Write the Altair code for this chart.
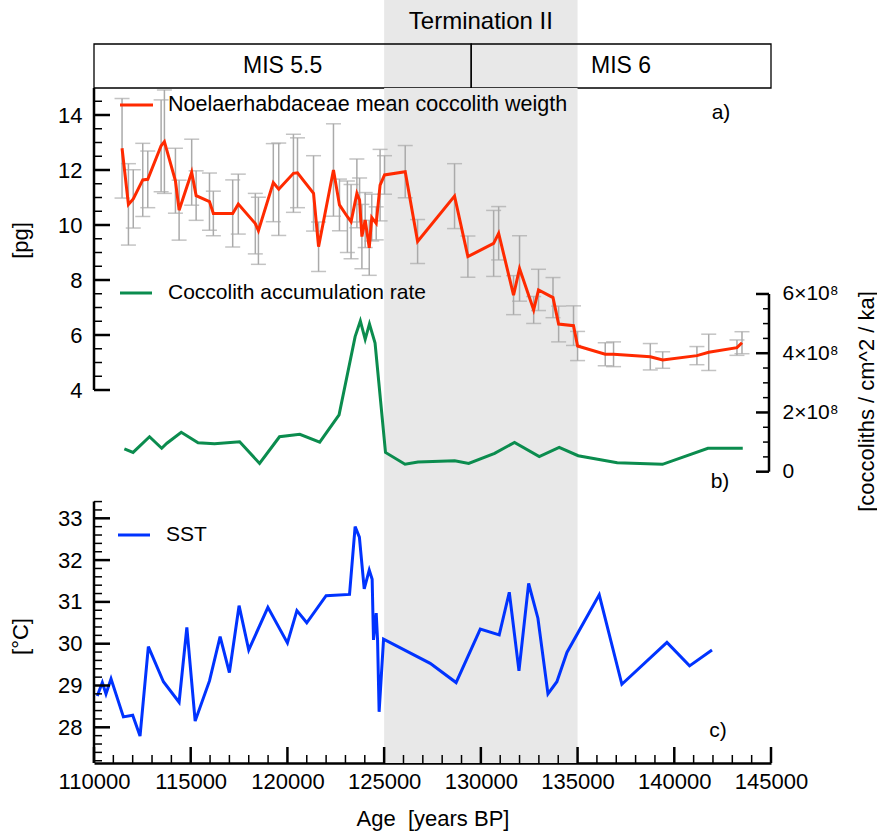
import altair as alt
import pandas as pd

FONT = "Liberation Sans"

# ---------------- data ----------------
weight_age = [111450, 111780, 112030, 112520, 112780, 113470, 113640, 114210, 114400, 115050,
              115280, 115970, 116170, 117170, 117460, 118340, 118500, 119270, 119550, 120310,
              120520, 121350, 121610, 122380, 122690, 123100, 123290, 123590, 123730, 123850,
              124020, 124230, 124360, 124590, 124790, 125020, 126090, 126730, 128640, 129330,
              130660, 130920, 131690, 132000, 132730, 132980, 133730, 134020, 134790, 135000,
              136430, 136860, 138760, 139400, 141170, 141780, 143240, 143500]
weight_pg = [12.79, 10.75, 10.95, 11.64, 11.66, 12.88, 13.03, 11.61, 10.54, 11.92,
             11.07, 10.85, 10.42, 10.42, 10.76, 10.05, 9.79, 11.54, 11.30, 11.88,
             11.90, 11.15, 9.21, 12.00, 10.73, 10.30, 10.12, 11.15, 10.91, 9.58,
             10.18, 9.17, 10.27, 10.06, 11.45, 11.82, 11.94, 9.40, 11.05, 8.85,
             9.33, 9.70, 7.45, 8.42, 6.91, 7.64, 7.36, 6.40, 6.34, 5.60,
             5.30, 5.30, 5.21, 5.09, 5.25, 5.37, 5.54, 5.72]
weight_err = [1.81, 1.48, 1.06, 1.33, 1.03, 1.67, 1.88, 1.18, 1.09, 1.20,
              0.90, 1.04, 0.81, 1.22, 1.09, 1.10, 1.22, 1.42, 1.68, 1.42,
              1.27, 1.37, 0.90, 1.68, 0.94, 1.30, 1.35, 1.25, 0.80, 1.17,
              1.00, 1.00, 0.85, 0.60, 1.30, 0.70, 0.95, 0.80, 1.18, 0.75,
              1.20, 0.97, 0.71, 1.19, 0.49, 0.75, 0.73, 0.65, 0.72, 0.53,
              0.42, 0.45, 0.48, 0.30, 0.33, 0.66, 0.28, 0.40]

acc_age = [111570, 112020, 112870, 113500, 113770, 114510, 115380, 116230, 117530, 118560,
           119590, 120640, 121670, 122670, 123500, 123770, 124020, 124240, 124530, 125070,
           126080, 126750, 128650, 129370, 130710, 131740, 133020, 134050, 135030, 137050,
           139390, 141740, 143540]
acc_rate = [0.77e8, 0.65e8, 1.18e8, 0.79e8, 0.96e8, 1.33e8, 0.98e8, 0.94e8, 1.01e8, 0.28e8,
            1.18e8, 1.26e8, 1.00e8, 1.92e8, 4.56e8, 5.09e8, 4.47e8, 4.99e8, 4.34e8, 0.65e8,
            0.25e8, 0.33e8, 0.37e8, 0.28e8, 0.62e8, 0.99e8, 0.51e8, 0.82e8, 0.54e8, 0.30e8,
            0.25e8, 0.79e8, 0.79e8]

sst_age = [110170, 110430, 110620, 110880, 111520, 112000, 112380, 112810, 113590, 114400,
           114800, 115230, 115970, 116520, 117000, 117500, 118000, 118990, 120000, 120490,
           121000, 122000, 123210, 123500, 123720, 123970, 124230, 124380, 124450, 124590,
           124660, 124740, 124970, 127380, 128720, 129970, 130950, 131470, 131970, 132470,
           132950, 133470, 133930, 134450, 136120, 137290, 139620, 140790, 141950]
sst_val = [28.75, 29.07, 28.80, 29.16, 28.25, 28.29, 27.79, 29.93, 29.09, 28.60,
           30.39, 28.15, 29.11, 30.17, 29.31, 30.91, 29.85, 30.87, 30.02, 30.79,
           30.50, 31.15, 31.18, 32.80, 32.55, 31.31, 31.76, 31.54, 30.09, 30.73,
           30.09, 28.37, 30.11, 29.53, 29.07, 30.35, 30.21, 31.23, 29.35, 31.44,
           30.61, 28.80, 29.09, 29.79, 31.17, 29.03, 30.03, 29.47, 29.85]

term_start, term_end = 125000, 135000
mis_labels = ["MIS 5.5", "MIS 6"]
mis_start = [110000, 129500]
mis_end = [129500, 145000]

x_major = list(range(110000, 145001, 5000))
x_minor = [v for v in range(110000, 145001, 1000) if v % 5000]
pg_major = [4, 6, 8, 10, 12, 14]
pg_minor = [4.5, 5, 5.5, 6.5, 7, 7.5, 8.5, 9, 9.5, 10.5, 11, 11.5, 12.5, 13, 13.5, 14.5]
ar_major = [0, 2e8, 4e8, 6e8]
ar_minor = [0.5e8, 1e8, 1.5e8, 2.5e8, 3e8, 3.5e8, 4.5e8, 5e8, 5.5e8]
sst_major = [28, 29, 30, 31, 32, 33]
sst_minor = [round(27 + 0.2 * i, 1) for i in range(1, 33) if i % 5]

# ---------------- layout / style ----------------
W, H_HEAD, H_TOP, H_BOT = 677, 88, 402, 273
GRAY, ERR, RED, GREEN, BLUE = "#e8e8e8", "#aaaaaa", "#ff2a00", "#0b8c4e", "#0033ff"

xs = alt.Scale(domain=[110000, 145000], nice=False, zero=False)
pgs = alt.Scale(domain=[0.364, 14.982], nice=False, zero=False)
ars = alt.Scale(domain=[-0.618e8, 12.954e8], nice=False, zero=False)
ssts = alt.Scale(domain=[27.146, 33.677], nice=False, zero=False)
hs = alt.Scale(domain=[0, 2], nice=False, zero=False)

one = pd.DataFrame({"k": [0]})
term_df = pd.DataFrame({"start": [term_start], "end": [term_end]})


def X(field, axis=None):
    return alt.X(field, scale=xs, axis=axis)


def shade(h):
    return alt.Chart(term_df).mark_rect(color=GRAY).encode(
        x=X("start:Q"), x2="end:Q", y=alt.value(0), y2=alt.value(h))


def label(text, x, y, size=21, align="left"):
    return alt.Chart(one).mark_text(text=text, font=FONT, fontSize=size, align=align,
                                    baseline="middle", color="black").encode(
        x=alt.value(x), y=alt.value(y))


def sample(x0, x1, y, color):
    return alt.Chart(one).mark_rule(color=color, strokeWidth=3).encode(
        x=alt.value(x0), x2=alt.value(x1), y=alt.value(y))


def yticks(values, scale, x0, x1, width):
    return alt.Chart(pd.DataFrame({"v": values})).mark_rule(color="black", strokeWidth=width).encode(
        y=alt.Y("v:Q", scale=scale, axis=None), x=alt.value(x0), x2=alt.value(x1))


def yline(lo, hi, scale, x):
    return alt.Chart(pd.DataFrame({"lo": [lo], "hi": [hi]})).mark_rule(color="black", strokeWidth=2.5).encode(
        y=alt.Y("lo:Q", scale=scale, axis=None), y2="hi:Q", x=alt.value(x))


# ---------------- header ----------------
mis_df = pd.DataFrame({"label": mis_labels, "start": mis_start, "end": mis_end})
mis_df["mid"] = (mis_df["start"] + mis_df["end"]) / 2
mis_df["lo"] = 0
mis_df["hi"] = 1
mis_df["ym"] = 0.5
term_lab = pd.DataFrame({"label": ["Termination II"], "x": [(term_start + term_end) / 2], "y": [1.5]})

header = alt.layer(
    shade(H_HEAD),
    alt.Chart(mis_df).mark_rect(fillOpacity=0, stroke="black", strokeWidth=1.3).encode(
        x=X("start:Q"), x2="end:Q", y=alt.Y("lo:Q", scale=hs, axis=None), y2="hi:Q"),
    alt.Chart(mis_df).mark_text(font=FONT, fontSize=23, color="black").encode(
        x=X("mid:Q"), y=alt.Y("ym:Q", scale=hs, axis=None), text="label:N"),
    alt.Chart(term_lab).mark_text(font=FONT, fontSize=24, color="black").encode(
        x=X("x:Q"), y=alt.Y("y:Q", scale=hs, axis=None), text="label:N"),
).properties(width=W, height=H_HEAD)

# ---------------- top panel ----------------
w_df = pd.DataFrame({"age": weight_age, "pg": weight_pg, "err": weight_err})
w_df["lo"] = w_df["pg"] - w_df["err"]
w_df["hi"] = w_df["pg"] + w_df["err"]

pg_axis = alt.Axis(values=pg_major, domain=False, ticks=False, tickSize=0, grid=False,
                   labelPadding=12, labelFontSize=22, labelFont=FONT, labelColor="black",
                   title="[pg]", titleAngle=270, titleX=-74, titleY=152, titleAlign="center",
                   titleBaseline="middle", titleFontSize=22, titleFontWeight="normal",
                   titleFont=FONT, titleColor="black")

ar_axis = alt.Axis(orient="right", values=ar_major, domain=False, ticks=False, tickSize=0, grid=False,
                   labelExpr="datum.value == 0 ? '0' : (datum.value / 1e8) + '×10⁸'",
                   labelPadding=11, labelFontSize=21, labelFont=FONT, labelColor="black",
                   title="[coccoliths / cm^2 / ka]", titleAngle=270, titleX=95, titleY=313,
                   titleAlign="center", titleBaseline="middle", titleFontSize=22,
                   titleFontWeight="normal", titleFont=FONT, titleColor="black")

pg_group = alt.layer(
    shade(H_TOP),
    alt.Chart(w_df).mark_rule(color=ERR, strokeWidth=1.5).encode(
        x=X("age:Q"), y=alt.Y("lo:Q", scale=pgs, axis=None), y2="hi:Q"),
    alt.Chart(w_df).mark_tick(color=ERR, orient="horizontal", size=15, thickness=1.5).encode(
        x=X("age:Q"), y=alt.Y("lo:Q", scale=pgs, axis=None)),
    alt.Chart(w_df).mark_tick(color=ERR, orient="horizontal", size=15, thickness=1.5).encode(
        x=X("age:Q"), y=alt.Y("hi:Q", scale=pgs, axis=None)),
    alt.Chart(w_df).mark_line(color=RED, strokeWidth=3).encode(
        x=X("age:Q"), y=alt.Y("pg:Q", scale=pgs, axis=pg_axis)),
    yline(4, 14.982, pgs, 0),
    yticks(pg_major, pgs, 0, 16, 2.5),
    yticks(pg_minor, pgs, 0, 8, 1.5),
    sample(26, 59, 17, RED),
    label("Noelaerhabdaceae mean coccolith weigth", 74, 17, size=21.5),
    label("a)", 627, 25, align="center"),
).resolve_axis(x="independent", y="independent")

ar_group = alt.layer(
    alt.Chart(pd.DataFrame({"age": acc_age, "rate": acc_rate})).mark_line(color=GREEN, strokeWidth=3).encode(
        x=X("age:Q"), y=alt.Y("rate:Q", scale=ars, axis=ar_axis)),
    yline(0, 6e8, ars, W - 2),
    yticks(ar_major, ars, W - 15, W - 2, 2.5),
    yticks(ar_minor, ars, W - 8, W - 2, 1.5),
    sample(26, 58, 205, GREEN),
    label("Coccolith accumulation rate", 74, 205),
    label("b)", 626, 394, align="center"),
).resolve_axis(x="independent", y="independent")

top = alt.layer(pg_group, ar_group).resolve_scale(y="independent").resolve_axis(
    x="independent", y="independent").properties(width=W, height=H_TOP)

# ---------------- bottom panel ----------------
x_axis = alt.Axis(values=x_major, format="d", ticks=False, tickSize=0, grid=False, domain=True,
                  domainColor="black", domainWidth=2.5, labelFlush=False, labelOverlap=False,
                  labelPadding=8, labelFontSize=22, labelFont=FONT, labelColor="black",
                  title="Age \u00a0[years BP]", titleFontSize=22, titleFontWeight="normal",
                  titleFont=FONT, titleColor="black", titleY=55, titleBaseline="middle")

sst_axis = alt.Axis(values=sst_major, domain=False, ticks=False, tickSize=0, grid=False,
                    labelPadding=12, labelFontSize=22, labelFont=FONT, labelColor="black",
                    title="[°C]", titleAngle=270, titleX=-74, titleY=146, titleAlign="center",
                    titleBaseline="middle", titleFontSize=22, titleFontWeight="normal",
                    titleFont=FONT, titleColor="black")

bottom = alt.layer(
    shade(H_BOT),
    alt.Chart(pd.DataFrame({"age": sst_age, "sst": sst_val})).mark_line(color=BLUE, strokeWidth=3).encode(
        x=X("age:Q", axis=x_axis), y=alt.Y("sst:Q", scale=ssts, axis=sst_axis)),
    yline(27.146, 33.4, ssts, 0),
    yticks(sst_major, ssts, 0, 16, 2.5),
    yticks(sst_minor, ssts, 0, 8, 1.5),
    alt.Chart(pd.DataFrame({"v": x_major})).mark_rule(color="black", strokeWidth=2.5).encode(
        x=X("v:Q"), y=alt.value(H_BOT), y2=alt.value(H_BOT - 16)),
    alt.Chart(pd.DataFrame({"v": x_minor})).mark_rule(color="black", strokeWidth=1.5).encode(
        x=X("v:Q"), y=alt.value(H_BOT), y2=alt.value(H_BOT - 8)),
    sample(24, 56, 45, BLUE),
    label("SST", 72, 45),
    label("c)", 624, 241, align="center"),
).resolve_axis(x="independent", y="independent").properties(width=W, height=H_BOT)

chart = alt.vconcat(header, top, bottom, spacing=0, bounds="flush").properties(
    padding={"left": 9, "top": 0, "right": 0, "bottom": 6}
).configure_view(strokeWidth=0).configure_axis(grid=False)

chart.save("out.html", embed_options={"renderer": "svg", "actions": False})
